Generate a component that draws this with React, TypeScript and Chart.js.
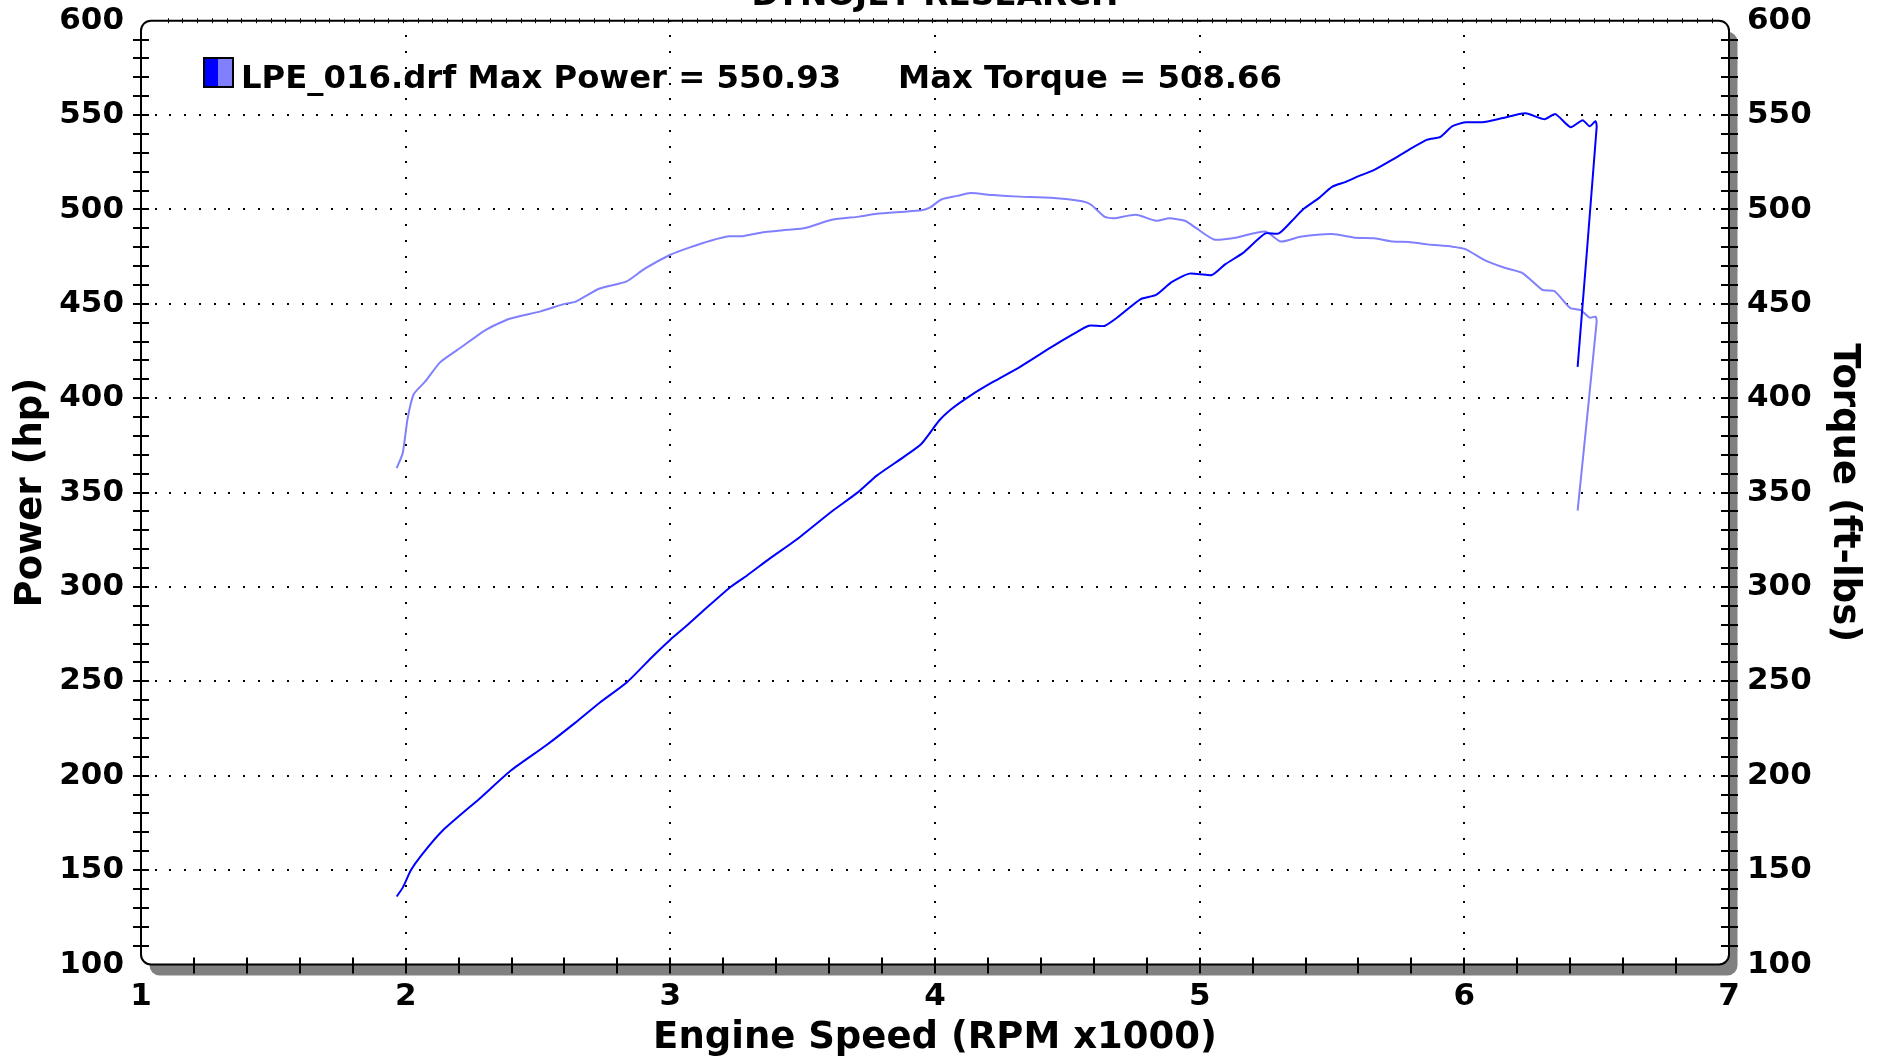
import React, { useEffect, useRef } from 'react';
import { Chart, registerables } from 'chart.js';

Chart.register(...registerables);

// ---- data (engine speed in RPM x1000) ----
const powerRpm = [
  1.966, 1.99, 2.02, 2.06, 2.14, 2.28, 2.40, 2.53, 2.64, 2.733, 2.835, 2.936, 3.0, 3.071, 3.138,
  3.223, 3.29, 3.375, 3.476, 3.611, 3.712, 3.78, 3.881, 3.949, 4.016, 4.067, 4.134, 4.219, 4.32,
  4.438, 4.522, 4.581, 4.64, 4.691, 4.776, 4.835, 4.894, 4.961, 5.046, 5.096, 5.164, 5.248, 5.299,
  5.349, 5.39, 5.45, 5.50, 5.55, 5.59, 5.66, 5.73, 5.79, 5.86, 5.91, 5.955, 6.004, 6.068, 6.144,
  6.231, 6.303, 6.344, 6.401, 6.447, 6.473, 6.496, 6.500, 6.428,
];
const powerHp = [
  136, 141, 150, 158, 171, 188, 203, 216, 228, 238.7, 249.4, 263.6, 272.1, 280.6, 289.1,
  299.5, 306.1, 315, 325, 340.1, 350.5, 359, 368.8, 375.9, 388.2, 394.8, 401.4, 408.6, 416.5,
  426.9, 433.9, 438.4, 438.3, 443, 452.4, 454.7, 461.5, 466, 465.3, 470.9, 477, 487.3, 487.3,
  494, 500, 506, 512, 514.5, 517, 521, 526.5, 531.6, 537, 538.5, 544.1, 546.2, 546.2, 548.4,
  550.93, 547.8, 550.5, 543.6, 547.3, 544.1, 546.8, 543.6, 416.6,
];
const torqueRpm = [
  1.966, 1.989, 2.007, 2.03, 2.075, 2.13, 2.21, 2.30, 2.39, 2.51, 2.60, 2.64, 2.733, 2.835, 2.902,
  3.0, 3.071, 3.155, 3.223, 3.273, 3.341, 3.442, 3.51, 3.611, 3.712, 3.78, 3.949, 3.982, 4.024,
  4.084, 4.134, 4.219, 4.32, 4.438, 4.556, 4.59, 4.64, 4.674, 4.759, 4.835, 4.885, 4.944, 4.986,
  5.054, 5.13, 5.248, 5.307, 5.38, 5.50, 5.59, 5.66, 5.73, 5.79, 5.86, 5.955, 6.004, 6.08, 6.155,
  6.22, 6.295, 6.34, 6.40, 6.44, 6.473, 6.496, 6.50, 6.428,
];
const torqueFtLbs = [
  363, 371, 389, 402, 409, 419, 427, 436, 442, 446, 450, 451, 458.1, 461.9, 468.5,
  476, 479.8, 483.6, 485.8, 485.8, 487.7, 489.2, 490.2, 494.5, 496.2, 497.7, 499.6, 501.1, 505.3,
  507.2, 508.66, 507.6, 506.8, 506.2, 504.3, 502.5, 496.2, 495.3, 497.2, 494, 495.3, 494, 490.2,
  484.1, 484.9, 488.3, 483, 485.5, 487, 485, 484.7, 483, 482.8, 481.5, 480.3, 479, 472.9, 469,
  466.3, 457.4, 456.8, 447.8, 446.7, 442.7, 443.2, 440.6, 340.4,
];

const xTickValues = [1, 2, 3, 4, 5, 6, 7];
const yTickValues = [100, 150, 200, 250, 300, 350, 400, 450, 500, 550, 600];

const chartTitle = 'DYNOJET RESEARCH';
const runName = 'LPE_016.drf';
const xTitle = 'Engine Speed (RPM x1000)';
const yTitle = 'Power (hp)';
const y2Title = 'Torque (ft-lbs)';

const POWER_COLOR = 'rgb(0,0,255)';
const TORQUE_COLOR = 'rgb(128,128,255)';
const FONT = '"DejaVu Sans", Verdana, sans-serif';

function roundRectPath(ctx: CanvasRenderingContext2D, x: number, y: number, w: number, h: number, r: number) {
  ctx.beginPath();
  ctx.moveTo(x + r, y);
  ctx.lineTo(x + w - r, y);
  ctx.arcTo(x + w, y, x + w, y + r, r);
  ctx.lineTo(x + w, y + h - r);
  ctx.arcTo(x + w, y + h, x + w - r, y + h, r);
  ctx.lineTo(x + r, y + h);
  ctx.arcTo(x, y + h, x, y + h - r, r);
  ctx.lineTo(x, y + r);
  ctx.arcTo(x, y, x + r, y, r);
  ctx.closePath();
}

const dynoPlugin = {
  id: 'dynoFrame',
  beforeDatasetsDraw(chart: any) {
    const { ctx, chartArea: a, scales } = chart;
    const xs = scales.x;
    const ys = scales.y;
    ctx.save();
    ctx.fillStyle = '#808080';
    roundRectPath(ctx, a.left + 8.5, a.top + 11, a.right - a.left, a.bottom - a.top, 10);
    ctx.fill();
    ctx.fillStyle = '#ffffff';
    roundRectPath(ctx, a.left, a.top, a.right - a.left, a.bottom - a.top, 10);
    ctx.fill();

    // dotted grid
    ctx.fillStyle = '#000';
    const xStep = (xs.getPixelForValue(2) - xs.getPixelForValue(1)) / 18;
    const yStep = (ys.getPixelForValue(100) - ys.getPixelForValue(150)) / 6;
    for (let i = 1; i < xTickValues.length - 1; i++) {
      const px = xs.getPixelForValue(xTickValues[i]);
      for (let py = a.top; py <= a.bottom + 0.5; py += yStep) {
        ctx.fillRect(Math.round(px) - 1, Math.round(py) - 1, 2, 2);
      }
    }
    for (let i = 1; i < yTickValues.length - 1; i++) {
      const py = ys.getPixelForValue(yTickValues[i]);
      for (let px = a.left; px <= a.right + 0.5; px += xStep) {
        ctx.fillRect(Math.round(px) - 1, Math.round(py) - 1, 2, 2);
      }
    }
    ctx.restore();
  },
  afterDraw(chart: any) {
    const { ctx, chartArea: a, scales } = chart;
    const xs = scales.x;
    const ys = scales.y;
    ctx.save();
    ctx.strokeStyle = '#000';
    ctx.lineWidth = 2;
    roundRectPath(ctx, a.left, a.top, a.right - a.left, a.bottom - a.top, 10);
    ctx.stroke();

    // minor ticks
    ctx.beginPath();
    for (let v = 110; v < 600; v += 10) {
      const py = Math.round(ys.getPixelForValue(v));
      ctx.moveTo(a.left - 8, py);
      ctx.lineTo(a.left + 8, py);
      ctx.moveTo(a.right - 8, py);
      ctx.lineTo(a.right + 9, py);
    }
    for (let k = 1; k < 30; k++) {
      const v = 1 + k * 0.2;
      const px = Math.round(xs.getPixelForValue(v));
      ctx.moveTo(px, a.bottom - 7);
      ctx.lineTo(px, a.bottom + 9);
    }
    ctx.stroke();
    ctx.lineWidth = 1;
    ctx.beginPath();
    const xStep = (xs.getPixelForValue(2) - xs.getPixelForValue(1)) / 18;
    for (let px = a.left + 12 + xStep; px < a.right - 12; px += xStep) {
      ctx.moveTo(Math.round(px) + 0.5, a.top - 2.5);
      ctx.lineTo(Math.round(px) + 0.5, a.top + 2.5);
    }
    ctx.stroke();

    // title (mostly cut off at the top edge)
    ctx.fillStyle = '#000';
    ctx.font = `bold 32.7px ${FONT}`;
    ctx.textAlign = 'center';
    ctx.textBaseline = 'alphabetic';
    ctx.fillText(chartTitle, (a.left + a.right) / 2, 4.5);

    // legend
    const bx = 204, by = 58, bs = 29;
    ctx.fillStyle = POWER_COLOR;
    ctx.fillRect(bx, by, bs / 2, bs);
    ctx.fillStyle = TORQUE_COLOR;
    ctx.fillRect(bx + bs / 2, by, bs / 2, bs);
    ctx.lineWidth = 2;
    ctx.strokeStyle = '#000';
    ctx.strokeRect(bx, by, bs, bs);
    ctx.fillStyle = '#000';
    ctx.font = `bold 32.3px ${FONT}`;
    ctx.textAlign = 'left';
    const maxP = Math.max(...powerHp).toFixed(2);
    const maxT = Math.max(...torqueFtLbs).toFixed(2);
    ctx.fillText(`${runName} Max Power = ${maxP}`, 241, 87.5);
    ctx.fillText(`Max Torque = ${maxT}`, 898, 87.5);
    ctx.restore();
  },
};

export default function App() {
  const canvasRef = useRef<HTMLCanvasElement | null>(null);

  useEffect(() => {
    const canvas = canvasRef.current;
    if (!canvas) return;
    const tickFont = { family: FONT, weight: 'bold' as const, size: 31 };
    const titleFont = { family: FONT, weight: 'bold' as const, size: 37 };
    const noPadV = (s: any) => { s.paddingTop = 0; s.paddingBottom = 0; };
    const chart = new Chart(canvas, {
      type: 'line',
      data: {
        datasets: [
          {
            label: 'Power',
            data: powerRpm.map((x, i) => ({ x, y: powerHp[i] })),
            borderColor: POWER_COLOR,
            borderWidth: 2,
            pointRadius: 0,
            fill: false,
            tension: 0.2,
            yAxisID: 'y',
          },
          {
            label: 'Torque',
            data: torqueRpm.map((x, i) => ({ x, y: torqueFtLbs[i] })),
            borderColor: TORQUE_COLOR,
            borderWidth: 2,
            pointRadius: 0,
            fill: false,
            tension: 0.2,
            yAxisID: 'y2',
          },
        ],
      },
      options: {
        animation: false,
        responsive: false,
        devicePixelRatio: 1,
        layout: { padding: { top: 20.7, left: 0, right: 0, bottom: 0 } },
        plugins: {
          legend: { display: false },
          tooltip: { enabled: false },
          title: { display: false },
        },
        scales: {
          x: {
            type: 'linear',
            position: 'bottom',
            min: 1,
            max: 7,
            afterBuildTicks: (s: any) => { s.ticks = xTickValues.map((v) => ({ value: v })); },
            grid: { display: false, drawTicks: false },
            border: { display: false },
            ticks: { font: tickFont, color: '#000', padding: 14, maxRotation: 0, autoSkip: false },
            title: { display: true, text: xTitle, font: titleFont, color: '#000', padding: { top: 0, bottom: -1 } },
            afterFit: (s: any) => { s.height = 95.5; s.paddingLeft = 0; s.paddingRight = 0; },
          },
          y: {
            type: 'linear',
            position: 'left',
            min: 100,
            max: 600,
            afterBuildTicks: (s: any) => { s.ticks = yTickValues.map((v) => ({ value: v })); },
            grid: { display: false, drawTicks: false },
            border: { display: false },
            ticks: { font: tickFont, color: '#000', padding: 17, autoSkip: false },
            title: { display: true, text: yTitle, font: titleFont, color: '#000', padding: { top: 9, bottom: 0 } },
            afterFit: (s: any) => { s.width = 141; noPadV(s); },
          },
          y2: {
            type: 'linear',
            position: 'right',
            min: 100,
            max: 600,
            afterBuildTicks: (s: any) => { s.ticks = yTickValues.map((v) => ({ value: v })); },
            grid: { display: false, drawTicks: false },
            border: { display: false },
            ticks: { font: tickFont, color: '#000', padding: 18, autoSkip: false },
            title: { display: true, text: y2Title, font: titleFont, color: '#000', padding: { top: 13, bottom: 0 } },
            afterFit: (s: any) => { s.width = 150; noPadV(s); },
          },
        },
      },
      plugins: [dynoPlugin],
    } as any);
    return () => chart.destroy();
  }, []);

  return (
    <div style={{ position: 'absolute', left: 0, top: 0, width: 1879, height: 1060, background: '#fff' }}>
      <canvas ref={canvasRef} width={1879} height={1060} style={{ display: 'block' }} />
    </div>
  );
}
